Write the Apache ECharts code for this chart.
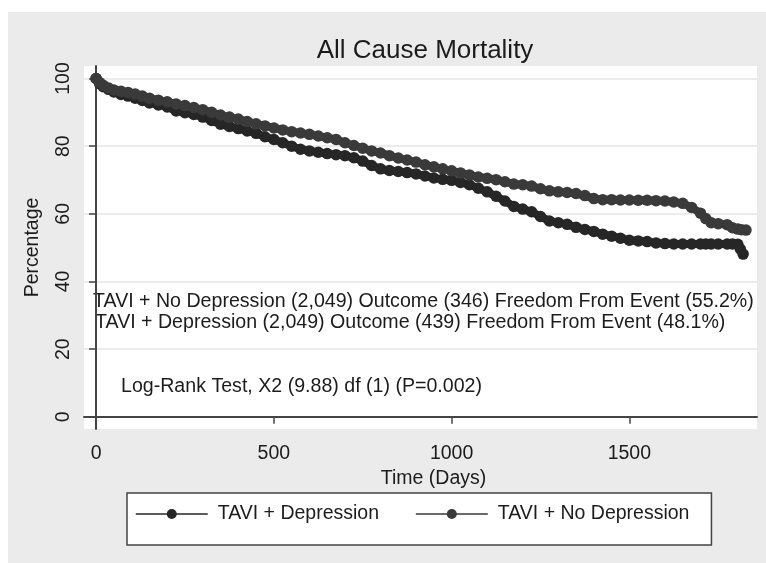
<!DOCTYPE html>
<html>
<head>
<meta charset="utf-8">
<script src="https://cdn.jsdelivr.net/npm/echarts@6/dist/echarts.min.js"></script>
<style>
html, body { margin: 0; padding: 0; background: #fff; }
#chart { width: 766px; height: 563px; }
</style>
</head>
<body>
<div id="chart"></div>
<script>
// days of follow-up
const days = [0, 10, 20, 35, 50, 70, 90, 110, 130, 150,
  175, 200, 225, 250, 275, 300, 325, 350, 375, 400,
  425, 450, 475, 500, 525, 550, 575, 600, 625, 650,
  675, 700, 725, 750, 775, 800, 825, 850, 875, 900,
  925, 950, 975, 1000, 1025, 1050, 1075, 1100, 1125, 1150,
  1175, 1200, 1225, 1250, 1275, 1300, 1325, 1350, 1375, 1400,
  1425, 1450, 1475, 1500, 1525, 1550, 1575, 1600, 1625, 1650,
  1675, 1700, 1715, 1730, 1750, 1775, 1790, 1805]

// TAVI + No Depression, % free from event
const noDepression = [100, 98.8, 98.0, 97.2, 96.6, 96.2, 95.9, 95.4, 94.8, 94.2,
  93.6, 93.1, 92.5, 92.0, 91.4, 90.8, 90.0, 89.2, 88.6, 88.0,
  87.3, 86.6, 86.0, 85.4, 84.8, 84.3, 83.9, 83.5, 83.0, 82.5,
  82.0, 81.0, 80.2, 79.4, 78.6, 78.0, 77.2, 76.5, 75.9, 75.3,
  74.5, 73.9, 73.3, 72.7, 72.1, 71.5, 70.9, 70.5, 70.1, 69.5,
  68.8, 68.6, 68.2, 67.4, 66.8, 66.5, 66.3, 66.0, 65.4, 64.5,
  64.2, 64.2, 64.1, 64.1, 64.0, 64.0, 63.9, 63.8, 63.5, 63.1,
  61.9, 60.2, 58.6, 57.4, 57.1, 56.8, 55.9, 55.5]
const noDepTailDays = [1815, 1828]
const noDepTail = [55.3, 55.2]

// TAVI + Depression, % free from event
const depression = [100, 98.5, 97.6, 96.8, 96.0, 95.3, 94.8, 94.2, 93.5, 92.8,
  92.2, 91.6, 90.4, 89.9, 89.4, 88.6, 87.6, 86.5, 85.8, 85.2,
  84.5, 83.8, 82.8, 82.0, 81.0, 80.0, 79.1, 78.6, 78.2, 77.8,
  77.5, 77.2, 76.6, 75.6, 74.3, 73.3, 72.8, 72.5, 72.2, 71.8,
  71.2, 70.6, 70.2, 69.9, 69.3, 68.6, 67.6, 66.5, 65.2, 63.8,
  62.2, 61.4, 60.6, 59.2, 57.9, 57.4, 56.9, 56.0, 55.4, 54.8,
  54.0, 53.4, 52.8, 52.2, 52.0, 51.8, 51.4, 51.2, 51.1, 51.1,
  51.1, 51.1, 51.1, 51.1, 51.1, 51.1, 51.1, 51.0]
const depTailDays = [1812, 1820]
const depTail = [49.6, 48.1]

const xTicks = [0, 500, 1000, 1500]
const yTicks = [0, 20, 40, 60, 80, 100]

const annotations = [
  "TAVI + No Depression (2,049) Outcome (346) Freedom From Event (55.2%)",
  "TAVI + Depression (2,049) Outcome (439) Freedom From Event (48.1%)",
  "Log-Rank Test, X2 (9.88) df (1) (P=0.002)",
]

const FONT = '"Liberation Sans", Arial, sans-serif'
const TXT = "#1c1c1c"
const pairs = (xs, ys) => xs.map((d, i) => [d, ys[i]])

const chart = echarts.init(document.getElementById("chart"))
const option = {
  animation: false,
  backgroundColor: "#fff",
  title: {
    text: "All Cause Mortality",
    left: 420,
    top: 31,
    textAlign: "center",
    textStyle: { fontSize: 26, fontWeight: "normal", color: TXT, fontFamily: FONT, lineHeight: 30 },
  },
  graphic: [
    { type: "rect", z: -10, silent: true, shape: { x: 8, y: 12, width: 758, height: 551 }, style: { fill: "#ebebeb" } },
    { type: "text", x: 93, y: 302, style: { text: annotations[0], font: "19.6px " + FONT, fill: TXT, verticalAlign: "middle" } },
    { type: "text", x: 95, y: 323, style: { text: annotations[1], font: "19.6px " + FONT, fill: TXT, verticalAlign: "middle" } },
    { type: "text", x: 121, y: 387, style: { text: annotations[2], font: "19.6px " + FONT, fill: TXT, verticalAlign: "middle" } },
  ],
  grid: {
    left: 84,
    right: 9,
    top: 66,
    bottom: 134,
    show: true,
    backgroundColor: "#fff",
    borderWidth: 0,
  },
  legend: {
    left: 127,
    top: 493,
    padding: [10, 22, 20, 8],
    backgroundColor: "#fff",
    borderColor: "#444",
    borderWidth: 1.5,
    borderRadius: 0,
    itemWidth: 72,
    itemHeight: 12.5,
    itemGap: 36,
    lineStyle: { width: 1.5 },
    textStyle: { fontSize: 19.5, color: TXT, fontFamily: FONT, lineHeight: 22, padding: [0, 0, 0, 5] },
    data: ["TAVI + Depression", "TAVI + No Depression"],
  },
  xAxis: {
    type: "value",
    min: -34,
    max: 1859,
    name: "Time (Days)",
    nameLocation: "middle",
    nameGap: 39,
    nameTextStyle: { fontSize: 19.5, color: TXT, fontFamily: FONT, padding: [0, 0, 0, 26] },
    axisLine: { show: true, lineStyle: { color: "#444", width: 2 } },
    axisTick: { show: true, length: 7, customValues: xTicks, lineStyle: { color: "#444", width: 1.5 } },
    axisLabel: { customValues: xTicks, formatter: (v) => String(v), margin: 15, fontSize: 19.5, color: TXT, fontFamily: FONT },
    splitLine: { show: false },
  },
  yAxis: {
    type: "value",
    min: -3.6,
    max: 103.7,
    name: "Percentage",
    nameLocation: "middle",
    nameGap: 41,
    nameRotate: 90,
    nameTextStyle: { fontSize: 19.5, color: TXT, fontFamily: FONT },
    axisLine: { show: true, lineStyle: { color: "#444", width: 2 } },
    axisTick: { show: true, length: 7, customValues: yTicks, lineStyle: { color: "#444", width: 1.5 } },
    axisLabel: { customValues: yTicks, rotate: 90, margin: 10, fontSize: 19.5, color: TXT, fontFamily: FONT },
    splitLine: { show: true, lineStyle: { color: "#ececec", width: 2 } },
  },
  series: [
    {
      name: "TAVI + Depression",
      type: "line",
      symbol: "circle",
      symbolSize: 11.5,
      showAllSymbol: true,
      color: "#262626",
      lineStyle: { color: "#262626", width: 8 },
      itemStyle: { color: "#262626" },
      data: pairs(days.concat(depTailDays), depression.concat(depTail)),
    },
    {
      name: "TAVI + No Depression",
      type: "line",
      symbol: "circle",
      symbolSize: 11.5,
      showAllSymbol: true,
      color: "#3a3a3a",
      lineStyle: { color: "#3a3a3a", width: 8 },
      itemStyle: { color: "#3a3a3a" },
      data: pairs(days.concat(noDepTailDays), noDepression.concat(noDepTail)),
    },
  ],
}
chart.setOption(option)
</script>
</body>
</html>
